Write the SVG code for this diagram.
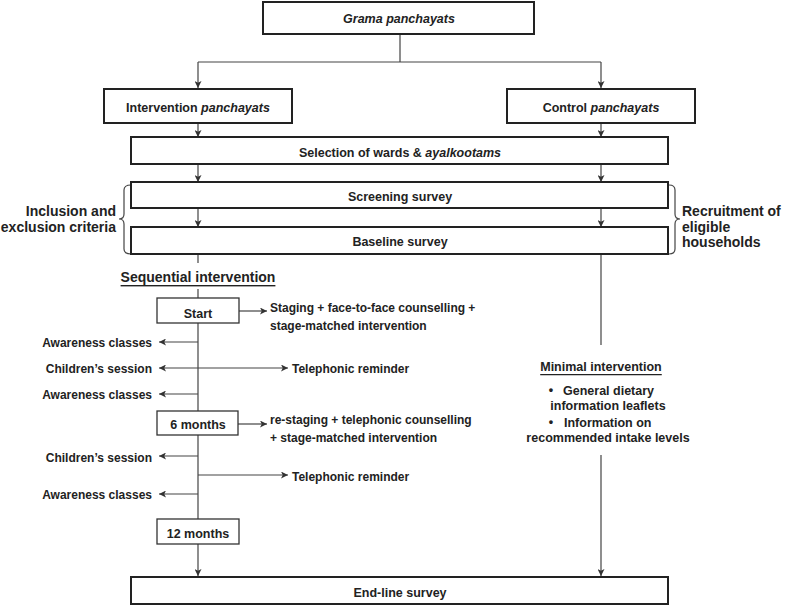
<svg xmlns="http://www.w3.org/2000/svg" width="787" height="607" viewBox="0 0 787 607">
<defs>
<marker id="ah" viewBox="0 0 8 8" refX="8" refY="4" markerWidth="7" markerHeight="7" markerUnits="userSpaceOnUse" orient="auto">
<path d="M0,0 L8,4 L0,8 L2,4 z" fill="#333"/>
</marker>
<style>
.box{fill:#fff;stroke:#222;stroke-width:2}
.sbox{fill:#fff;stroke:#333;stroke-width:1.3}
.ln{fill:none;stroke:#444;stroke-width:1.2}
.ar{fill:none;stroke:#444;stroke-width:1.2;marker-end:url(#ah)}
.t{font-family:"Liberation Sans",Arial,sans-serif;font-weight:bold;font-size:12px;fill:#222}
.b{font-size:12.5px}
.c{text-anchor:middle;dominant-baseline:central}
.a{font-family:"Liberation Sans",Arial,sans-serif;font-weight:bold;font-size:14px;fill:#222}
.i{font-style:italic}
</style>
</defs>
<rect width="787" height="607" fill="#fff"/>
<g id="connectors">
<path class="ln" d="M400,34 V62 M198,62 H601"/>
<path class="ar" d="M198,62 V88"/>
<path class="ar" d="M601,62 V88"/>
<path class="ar" d="M198,123 V137"/>
<path class="ar" d="M601,123 V137"/>
<path class="ar" d="M198,164 V182"/>
<path class="ar" d="M601,164 V182"/>
<path class="ar" d="M198,208 V227"/>
<path class="ar" d="M601,208 V227"/>
<path class="ln" d="M198,255 V263"/>
<path class="ln" d="M198,289 V298"/>
<path class="ln" d="M198,323 V411"/>
<path class="ln" d="M198,435 V519"/>
<path class="ar" d="M198,544 V576"/>
<path class="ar" d="M239,311 H267"/>
<path class="ar" d="M238,424 H267"/>
<path class="ar" d="M198,342 H159"/>
<path class="ar" d="M198,368 H159"/>
<path class="ar" d="M198,368 H288"/>
<path class="ar" d="M198,394 H159"/>
<path class="ar" d="M198,456 H159"/>
<path class="ar" d="M198,475 H288"/>
<path class="ar" d="M198,494 H159"/>
<path class="ln" d="M601,255 V345"/>
<path class="ar" d="M601,455 V576"/>
<path class="ln" d="M131,185 Q124,185 124,190 V214 Q124,219 119,219 Q124,219 124,224 V249 Q124,254 131,254"/>
<path class="ln" d="M669,185 Q675,185 675,190 V214 Q675,219 680,219 Q675,219 675,224 V249 Q675,254 669,254"/>
</g>
<g id="grama"><rect class="box" x="263" y="2" width="271" height="32"/><text class="t b c i" x="399" y="19">Grama panchayats</text></g>
<g id="intervention"><rect class="box" x="104" y="89" width="188" height="34"/><text class="t b c" x="198" y="108">Intervention <tspan class="i">panchayats</tspan></text></g>
<g id="control"><rect class="box" x="507" y="89" width="188" height="34"/><text class="t b c" x="601" y="108">Control <tspan class="i">panchayats</tspan></text></g>
<g id="selection"><rect class="box" x="131" y="137" width="537" height="27"/><text class="t b c" x="400" y="153">Selection of wards &amp; <tspan class="i">ayalkootams</tspan></text></g>
<g id="screening"><rect class="box" x="131" y="182" width="537" height="26"/><text class="t b c" x="400" y="197">Screening survey</text></g>
<g id="baseline"><rect class="box" x="131" y="227" width="537" height="27"/><text class="t b c" x="400" y="242">Baseline survey</text></g>
<g id="inclusion"><text class="a" text-anchor="end" x="116" y="216">Inclusion and</text><text class="a" text-anchor="end" x="116" y="232">exclusion criteria</text></g>
<g id="recruitment"><text class="a" x="682" y="216">Recruitment of</text><text class="a" x="682" y="232">eligible</text><text class="a" x="682" y="247">households</text></g>
<g id="sequential"><text class="a c" x="198" y="277" text-decoration="underline">Sequential intervention</text></g>
<g id="start"><rect class="sbox" x="157" y="298" width="82" height="25"/><text class="t b c" x="198" y="314">Start</text></g>
<g id="staging"><text class="t" x="270" y="312">Staging + face-to-face counselling +</text><text class="t" x="270" y="330">stage-matched intervention</text></g>
<g id="aw1"><text class="t" text-anchor="end" x="152" y="347">Awareness classes</text></g>
<g id="ch1"><text class="t" text-anchor="end" x="152" y="373">Children’s session</text></g>
<g id="tel1"><text class="t" x="292" y="373">Telephonic reminder</text></g>
<g id="aw2"><text class="t" text-anchor="end" x="152" y="399">Awareness classes</text></g>
<g id="m6"><rect class="sbox" x="157" y="411" width="81" height="24"/><text class="t b c" x="198" y="425">6 months</text></g>
<g id="restaging"><text class="t" x="270" y="424">re-staging + telephonic counselling</text><text class="t" x="270" y="442">+ stage-matched intervention</text></g>
<g id="ch2"><text class="t" text-anchor="end" x="152" y="462">Children’s session</text></g>
<g id="tel2"><text class="t" x="292" y="481">Telephonic reminder</text></g>
<g id="aw3"><text class="t" text-anchor="end" x="152" y="499">Awareness classes</text></g>
<g id="m12"><rect class="sbox" x="157" y="519" width="82" height="25"/><text class="t b c" x="198" y="534">12 months</text></g>
<g id="minimal"><text class="t b c" x="601" y="367" text-decoration="underline">Minimal intervention</text>
<text class="t b c" x="551" y="390">•</text><text class="t b" x="563" y="394.5">General dietary</text>
<text class="t b c" x="608" y="406">information leaflets</text>
<text class="t b c" x="551" y="422">•</text><text class="t b" x="564" y="426.5">Information on</text>
<text class="t b c" x="608" y="438">recommended intake levels</text></g>
<g id="endline"><rect class="box" x="131" y="577" width="537" height="27"/><text class="t b c" x="400" y="593">End-line survey</text></g>
</svg>
